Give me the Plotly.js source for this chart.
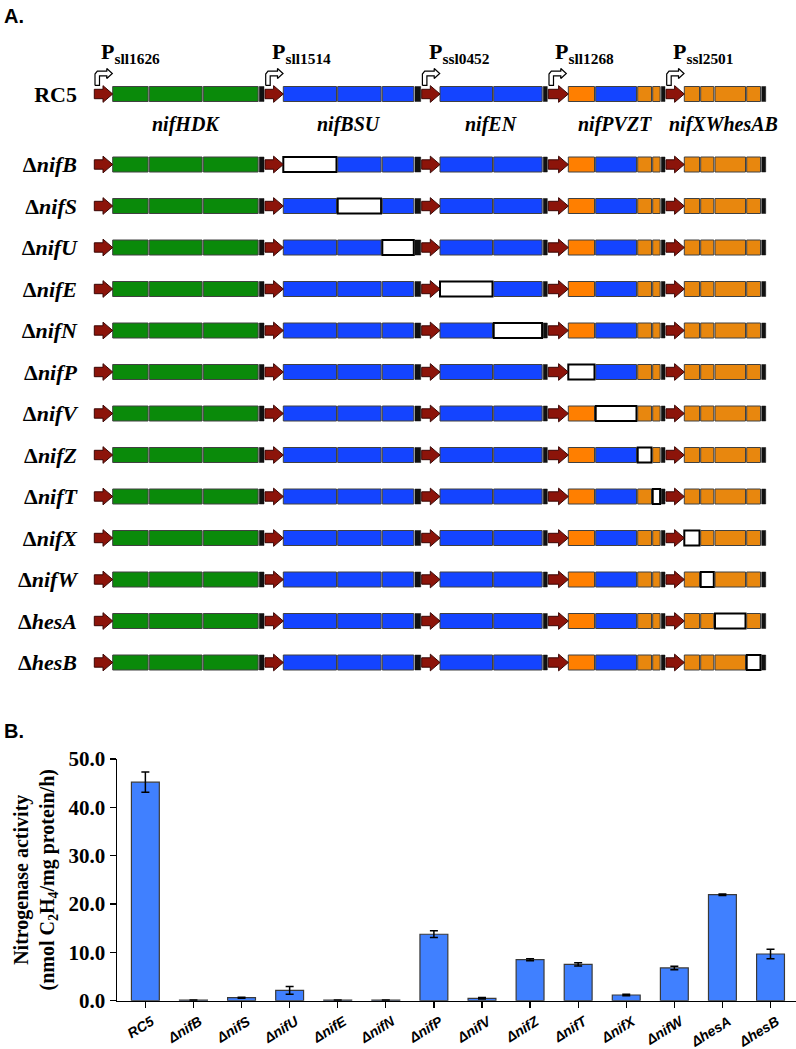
<!DOCTYPE html>
<html>
<head>
<meta charset="utf-8">
<script src="https://cdn.plot.ly/plotly-3.0.1.min.js"></script>
<style>
  html, body { margin: 0; padding: 0; background: #fff; }
  #chart { width: 796px; height: 1049px; }
</style>
</head>
<body>
<div id="chart"></div>
<script>
// ---------------- DATA ----------------
// Panel A: genetic elements of the RC5 nif cluster, in drawing order (relative lengths)
const elemNames   = ['P1','nifH','nifD','nifK','T1','P2','nifB','nifS','nifU','T2','P3','nifE','nifN','T3','P4','nifP','nifV','nifZ','nifT','T4','P5','nifX','nifW','hesA','hesB','T5'];
const elemKinds   = ['prom','gene','gene','gene','term','prom','gene','gene','gene','term','prom','gene','gene','term','prom','gene','gene','gene','gene','term','prom','gene','gene','gene','gene','term'];
const elemLengths = [18.4,36.6,54,56,5.7,18.3,54.4,44.6,32.7,6.7,18.3,53.7,49.6,5,20,27.4,42,15,8.6,4.7,18.3,16.4,14.3,31.7,15,5];
const promoterNames = ['sll1626','sll1514','ssl0452','sll1268','ssl2501'];
const operonNames   = ['nifHDK','nifBSU','nifEN','nifPVZT','nifXWhesAB'];
// strains (rows) and the gene deleted in each
const strainNames  = ['RC5','nifB','nifS','nifU','nifE','nifN','nifP','nifV','nifZ','nifT','nifX','nifW','hesA','hesB'];
const deletedGenes = [null,'nifB','nifS','nifU','nifE','nifN','nifP','nifV','nifZ','nifT','nifX','nifW','hesA','hesB'];

// Panel B: nitrogenase activity (nmol C2H4/mg protein/h)
const activity = [45.2, 0.1, 0.62, 2.14, 0.1, 0.1, 13.75, 0.49, 8.49, 7.52, 1.18, 6.77, 21.93, 9.66];
const activityErr = [2.1, 0.05, 0.1, 0.8, 0.05, 0.05, 0.7, 0.15, 0.2, 0.35, 0.15, 0.35, 0.15, 1.0];

// ---------------- STYLE / LAYOUT CONSTANTS ----------------
const W = 796, H = 1049;
const geneColor = {
  nifH:'#0a8a0a', nifD:'#0a8a0a', nifK:'#0a8a0a',
  nifB:'#1444ff', nifS:'#1444ff', nifU:'#1444ff', nifE:'#1444ff', nifN:'#1444ff', nifV:'#1444ff',
  nifP:'#ff7f00',
  nifZ:'#e8870e', nifT:'#e8870e', nifX:'#e8870e', nifW:'#e8870e', hesA:'#e8870e', hesB:'#e8870e'
};
const startX = 94.3;         // diagram start
const aX0 = 78;              // left edge of diagram plot area (px)
const aBottom = 690;         // bottom of diagram area (px)
const geneH = 15;
const rowY = strainNames.map((s, i) => i === 0 ? 94 : 164.5 + 41.5 * (i - 1));
const serif = 'Liberation Serif, Times New Roman, serif';
const sans = 'Liberation Sans, Arial, sans-serif';

// ---------------- PANEL A ----------------
const elemStart = [];
let cur = startX;
elemLengths.forEach(l => { elemStart.push(cur); cur += l; });

const gx = [], gbase = [], gy = [], gcol = [], glc = [], glw = [];
const ax = [], ay = [];
const pax = [], pay = [];
strainNames.forEach((s, r) => {
  const yc = rowY[r];
  elemNames.forEach((name, k) => {
    const xs = elemStart[k], len = elemLengths[k];
    if (elemKinds[k] === 'gene') {
      const del = deletedGenes[r] === name;
      gx.push(len - 1.2); gbase.push(xs); gy.push(yc);
      gcol.push(del ? '#ffffff' : geneColor[name]);
      glc.push(del ? '#000000' : '#404040');
      glw.push(del ? 2 : 1);
    } else if (elemKinds[k] === 'term') {
      gx.push(len - 1); gbase.push(xs); gy.push(yc);
      gcol.push('#111111'); glc.push('#111111'); glw.push(0.5);
    } else {
      const head = 9.7, sh = 4.7, hh = 8.35;
      ax.push(xs, xs + len - head, xs + len - head, xs + len, xs + len - head, xs + len - head, xs, xs, null);
      ay.push(yc - sh, yc - sh, yc - hh, yc, yc + hh, yc + sh, yc + sh, yc - sh, null);
      if (r === 0) {
        const yb = yc - 8.6, yt = yc - 20.5;
        pax.push(xs + 0.7, xs + 0.7, xs + 3, xs + 12.5, xs + 12.5, xs + 18, xs + 12.5, xs + 12.5, xs + 5.2, xs + 5.2, xs + 0.7, null);
        pay.push(yb, yt + 0.5, yt - 2.3, yt - 2.3, yt - 5, yt, yt + 5, yt + 2.3, yt + 2.3, yb, yb, null);
      }
    }
  });
});

const traces = [];
traces.push({
  type: 'bar', orientation: 'h', xaxis: 'x2', yaxis: 'y2',
  x: gx, base: gbase, y: gy, width: geneH,
  marker: { color: gcol, line: { color: glc, width: glw } },
  hoverinfo: 'skip', showlegend: false
});
traces.push({
  type: 'scatter', mode: 'lines', xaxis: 'x2', yaxis: 'y2',
  x: ax, y: ay, fill: 'toself', fillcolor: '#8c140a',
  line: { color: '#3a0604', width: 1 }, hoverinfo: 'skip', showlegend: false
});
traces.push({
  type: 'scatter', mode: 'lines', xaxis: 'x2', yaxis: 'y2',
  x: pax, y: pay, fill: 'toself', fillcolor: '#ffffff',
  line: { color: '#000000', width: 1.2 }, hoverinfo: 'skip', showlegend: false
});

// ---------------- PANEL B ----------------
const xLabels = strainNames.map(s => s === 'RC5' ? 'RC5' : 'Δ' + s);
traces.push({
  type: 'bar', xaxis: 'x', yaxis: 'y',
  x: xLabels, y: activity, width: 0.58,
  marker: { color: '#4080ff', line: { color: '#3a3a3a', width: 1.2 } },
  error_y: { type: 'data', array: activityErr, visible: true, color: '#000000', thickness: 1.5, width: 4 },
  hoverinfo: 'skip', showlegend: false
});

const ann = [];
ann.push({ xref: 'paper', yref: 'paper', x: 2 / W, y: 1 - 16 / H, xanchor: 'left', yanchor: 'middle',
  text: 'A.', showarrow: false, font: { family: sans, size: 20, weight: 'bold', color: '#000' } });
ann.push({ xref: 'paper', yref: 'paper', x: 2 / W, y: 1 - 731 / H, xanchor: 'left', yanchor: 'middle',
  text: 'B.', showarrow: false, font: { family: sans, size: 20, weight: 'bold', color: '#000' } });
ann.push({ xref: 'paper', yref: 'paper', x: 34.5 / W, y: 1 - 880 / H, xanchor: 'center', yanchor: 'middle',
  textangle: -90, text: 'Nitrogenase activity<br>(nmol C<sub>2</sub>H<sub>4</sub>/mg protein/h)',
  showarrow: false, font: { family: serif, size: 20, weight: 'bold', color: '#000' } });

const promIdx = elemKinds.map((k, i) => k === 'prom' ? i : -1).filter(i => i >= 0);
promIdx.forEach((k, j) => {
  ann.push({ xref: 'x2', yref: 'y2', x: elemStart[k] + 5, y: rowY[0] - 41, xanchor: 'left', yanchor: 'middle',
    text: 'P<sub>' + promoterNames[j] + '</sub>', showarrow: false,
    font: { family: serif, size: 22, weight: 'bold', color: '#000' } });
  const endK = j + 1 < promIdx.length ? promIdx[j + 1] - 1 : elemKinds.length - 1;
  const g0 = elemStart[k + 1];
  const g1 = elemStart[endK];
  ann.push({ xref: 'x2', yref: 'y2', x: (g0 + g1) / 2, y: rowY[0] + 30, xanchor: 'center', yanchor: 'middle',
    text: '<i>' + operonNames[j] + '</i>', showarrow: false,
    font: { family: serif, size: 20, weight: 'bold', color: '#000' } });
});

const rowText = strainNames.map(s => s === 'RC5' ? 'RC5' : 'Δ<i>' + s + '</i>');

const layout = {
  width: W, height: H,
  margin: { l: 0, r: 0, t: 0, b: 0 },
  paper_bgcolor: '#ffffff', plot_bgcolor: 'rgba(0,0,0,0)',
  showlegend: false,
  xaxis: {
    domain: [117 / W, 1], range: [-0.59, 13.53], type: 'category',
    showline: true, linecolor: '#000', linewidth: 1.5,
    ticks: 'outside', ticklen: 6, tickwidth: 1.2, tickcolor: '#000',
    tickangle: -32, ticklabelshift: 6, showgrid: false, zeroline: false,
    tickfont: { family: sans, size: 14, weight: 'bold', style: 'italic', color: '#000' },
    anchor: 'y'
  },
  yaxis: {
    domain: [1 - 1000.7 / H, 1 - 759 / H], range: [0, 50], dtick: 10, tickformat: '.1f',
    showline: true, linecolor: '#000', linewidth: 1.5,
    ticks: 'outside', ticklen: 6, tickwidth: 1.2, tickcolor: '#000',
    showgrid: false, zeroline: false,
    tickfont: { family: serif, size: 21, weight: 'bold', color: '#000' },
    anchor: 'x'
  },
  xaxis2: {
    domain: [aX0 / W, 1], range: [aX0, W], anchor: 'y2',
    showline: false, showgrid: false, zeroline: false, showticklabels: false, ticks: ''
  },
  yaxis2: {
    domain: [1 - aBottom / H, 1], range: [aBottom, 0], anchor: 'x2',
    showline: false, showgrid: false, zeroline: false, ticks: '',
    tickmode: 'array', tickvals: rowY, ticktext: rowText,
    tickfont: { family: serif, size: 22, weight: 'bold', color: '#000' }
  },
  annotations: ann
};

Plotly.newPlot('chart', traces, layout, { staticPlot: true, displayModeBar: false });
</script>
</body>
</html>
